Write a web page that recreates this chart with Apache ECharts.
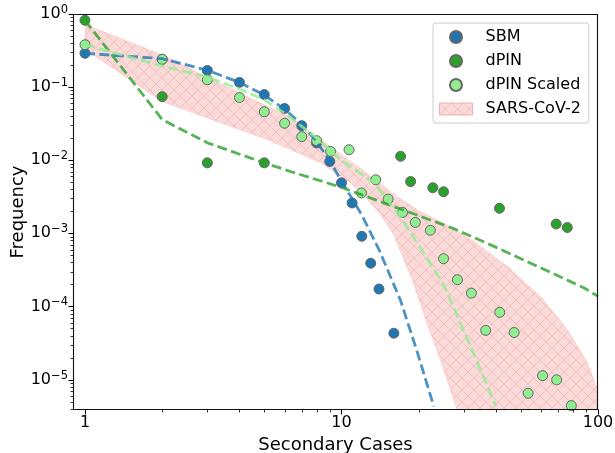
<!DOCTYPE html>
<html>
<head>
<meta charset="utf-8">
<script src="https://cdn.jsdelivr.net/npm/echarts@6/dist/echarts.min.js"></script>
<style>
html,body{margin:0;padding:0;background:#ffffff;}
#chart{width:615px;height:453px;}
</style>
</head>
<body>
<div id="chart"></div>
<script>
// ---------------- data ----------------
const X_MIN = 0.898, X_MAX = 100;
const Y_MIN = 3.83e-6, Y_MAX = 1;

// SBM scatter
const sbmX = [1, 2, 3, 4, 5, 6, 7, 8, 9, 10, 11, 12, 13, 14, 16];
const sbmY = [0.29, 0.24, 0.169, 0.116, 0.079, 0.051, 0.0297, 0.0172, 0.0096, 0.0049, 0.0026, 0.00091, 0.00039, 0.000173, 0.000043];

// dPIN scatter
const dpinX = [1, 2, 3, 5, 17, 18.6, 22.7, 25, 41.3, 68.7, 75.9];
const dpinY = [0.82, 0.074, 0.0092, 0.0092, 0.0113, 0.0051, 0.0042, 0.0037, 0.0022, 0.00134, 0.0012];

// dPIN Scaled scatter
const scaledX = [1, 2, 3, 4, 5, 6, 7, 8, 9.07, 10.7, 11.97, 13.6, 15.2, 17.3, 19.4, 22.2, 25, 28.3, 32.1, 36.5, 41.4, 47.1, 53.4, 60.8, 69, 78.7];
const scaledY = [0.38, 0.24, 0.126, 0.072, 0.046, 0.032, 0.021, 0.0185, 0.0132, 0.0139, 0.00356, 0.0054, 0.00294, 0.00193, 0.00141, 0.0011, 0.00045, 0.000232, 0.000152, 0.000047, 0.000083, 0.000044, 0.0000065, 0.0000113, 0.0000099, 0.0000044];

// fitted (dashed) curves
const sbmFitX = [1, 2, 3, 4, 5, 6, 7, 8, 9, 10, 12, 14, 17, 19.8, 22.9];
const sbmFitY = [0.29, 0.245, 0.17, 0.116, 0.078, 0.05, 0.031, 0.018, 0.0098, 0.0052, 0.00178, 0.0006, 0.00012, 0.000023, 0.0000043];

const dpinFitX = [1, 2, 3, 5, 6.5, 9.9, 17.3, 27.4, 40.6, 88.4, 100];
const dpinFitY = [0.82, 0.036, 0.0173, 0.0092, 0.0068, 0.0043, 0.0021, 0.00116, 0.00063, 0.000179, 0.000137];

const scaledFitX = [1, 2, 3, 4, 5, 6, 7, 8, 9.9, 13.4, 17, 18.6, 25, 31.9, 40];
const scaledFitY = [0.38, 0.195, 0.137, 0.094, 0.067, 0.044, 0.029, 0.020, 0.0102, 0.0049, 0.00166, 0.00102, 0.0002, 0.000028, 0.0000043];

// SARS-CoV-2 band edges
const bandUpX = [1, 2, 3.79, 6.33, 9.07, 13.6, 16.5, 19.8, 24.4, 29.1, 32.9, 44.4, 59.9, 76.1, 91.2, 100];
const bandUpY = [0.725, 0.277, 0.092, 0.039, 0.0154, 0.0054, 0.0032, 0.0021, 0.00144, 0.00102, 0.00078, 0.000352, 0.000137, 0.000048, 0.0000168, 0.0000072];
const bandLoX = [1, 2, 5.13, 8.28, 10.84, 12.2, 14.2, 16, 18.9, 21.6, 24.4, 28.2];
const bandLoY = [0.33, 0.063, 0.019, 0.0092, 0.0049, 0.00337, 0.0018, 0.00093, 0.000225, 0.000056, 0.0000175, 0.00000383];

// ticks
const xMajorTicks = [1, 10, 100];
const xMinorTicks = [2, 3, 4, 5, 6, 7, 8, 9, 20, 30, 40, 50, 60, 70, 80, 90];
const yMajorTicks = [1e-5, 1e-4, 1e-3, 1e-2, 1e-1, 1];
const yMinorTicks = [
  4e-6, 5e-6, 6e-6, 7e-6, 8e-6, 9e-6,
  2e-5, 3e-5, 4e-5, 5e-5, 6e-5, 7e-5, 8e-5, 9e-5,
  2e-4, 3e-4, 4e-4, 5e-4, 6e-4, 7e-4, 8e-4, 9e-4,
  2e-3, 3e-3, 4e-3, 5e-3, 6e-3, 7e-3, 8e-3, 9e-3,
  2e-2, 3e-2, 4e-2, 5e-2, 6e-2, 7e-2, 8e-2, 9e-2,
  0.2, 0.3, 0.4, 0.5, 0.6, 0.7, 0.8, 0.9
];

// ---------------- helpers ----------------
const FONT = 'DejaVu Sans';
function zip(xs, ys) { return xs.map((x, i) => [x, ys[i]]); }

function makeHatch() {
  const s = 12;
  const c = document.createElement('canvas');
  c.width = s; c.height = s;
  const g = c.getContext('2d');
  g.fillStyle = 'rgba(240,128,128,0.30)';
  g.fillRect(0, 0, s, s);
  g.strokeStyle = 'rgba(225,110,110,0.22)';
  g.lineWidth = 1;
  g.beginPath();
  g.moveTo(-1, -1); g.lineTo(s + 1, s + 1);
  g.moveTo(s + 1, -1); g.lineTo(-1, s + 1);
  g.stroke();
  return c;
}
const hatch = { image: makeHatch(), repeat: 'repeat' };

function isPow10(v) {
  const l = Math.log10(v);
  return Math.abs(l - Math.round(l)) < 1e-6;
}

const chart = echarts.init(document.getElementById('chart'), null, { renderer: 'canvas' });

const option = {
  animation: false,
  backgroundColor: '#ffffff',
  grid: { left: 73, top: 14, right: 17, bottom: 43, show: false, outerBoundsMode: 'none' },
  xAxis: {
    type: 'log', logBase: 10, min: X_MIN, max: X_MAX, splitNumber: 2,
    axisLine: { show: false }, axisTick: { show: false }, splitLine: { show: false },
    axisLabel: {
      fontSize: 16, fontFamily: FONT, color: '#000', margin: 5,
      formatter: v => isPow10(v) ? String(Math.round(v)) : ''
    },
    name: 'Secondary Cases', nameLocation: 'middle', nameGap: 21,
    nameTextStyle: { fontSize: 18, fontFamily: FONT, color: '#000' }
  },
  yAxis: {
    type: 'log', logBase: 10, min: Y_MIN, max: Y_MAX,
    axisLine: { show: false }, axisTick: { show: false }, splitLine: { show: false },
    axisLabel: {
      margin: 5,
      formatter: v => {
        if (!isPow10(v)) return '';
        const e = Math.round(Math.log10(v));
        const sup = e < 0 ? '\u2212' + (-e) : String(e);
        return '{b|10}{s|' + sup + '}';
      },
      rich: {
        b: { fontSize: 16, fontFamily: FONT, color: '#000', lineHeight: 20 },
        s: { fontSize: 11.5, fontFamily: FONT, color: '#000', lineHeight: 13, verticalAlign: 'top' }
      }
    },
    name: 'Frequency', nameLocation: 'middle', nameGap: 46, nameMoveOverlap: false,
    nameTextStyle: { fontSize: 18, fontFamily: FONT, color: '#000' }
  },
  legend: {
    orient: 'vertical', left: 433, top: 23,
    itemWidth: 33, itemHeight: 12, itemGap: 6,
    padding: [5, 8, 5, 6],
    backgroundColor: 'rgba(255,255,255,0.8)', borderColor: '#cccccc', borderWidth: 1, borderRadius: 3,
    selectedMode: false,
    textStyle: { fontSize: 16, fontFamily: FONT, color: '#000', lineHeight: 18, padding: [0, 0, 0, 8] },
    data: [
      { name: 'SBM', icon: 'circle' },
      { name: 'dPIN', icon: 'circle' },
      { name: 'dPIN Scaled', icon: 'circle' },
      { name: 'SARS-CoV-2', icon: 'rect',
        itemStyle: { color: hatch, borderColor: 'rgba(240,128,128,0.55)', borderWidth: 1 } }
    ]
  },
  series: [
    {
      name: 'SARS-CoV-2', type: 'custom', coordinateSystem: 'cartesian2d', z: 1, silent: true,
      itemStyle: { color: hatch, borderColor: 'rgba(240,128,128,0.55)', borderWidth: 1 },
      data: [[bandUpX[0], bandUpY[0]]],
      renderItem: function (params, api) {
        const cs = params.coordSys;
        const bottom = cs.y + cs.height;
        const pts = [];
        for (let i = 0; i < bandUpX.length; i++) pts.push(api.coord([bandUpX[i], bandUpY[i]]));
        pts.push([api.coord([bandUpX[bandUpX.length - 1], Y_MAX])[0], bottom]);
        for (let i = bandLoX.length - 1; i >= 0; i--) pts.push(api.coord([bandLoX[i], bandLoY[i]]));
        return {
          type: 'polygon', shape: { points: pts },
          style: { fill: hatch, stroke: 'rgba(240,128,128,0.2)', lineWidth: 0.6 }
        };
      }
    },
    {
      name: 'SBM', type: 'scatter', z: 2, symbolSize: 10,
      itemStyle: { color: '#1f77b4', borderColor: '#666666', borderWidth: 1, opacity: 1 },
      data: zip(sbmX, sbmY)
    },
    {
      name: 'dPIN', type: 'scatter', z: 2, symbolSize: 10,
      itemStyle: { color: '#2ca02c', borderColor: '#666666', borderWidth: 1, opacity: 1 },
      data: zip(dpinX, dpinY)
    },
    {
      name: 'dPIN Scaled', type: 'scatter', z: 2, symbolSize: 10,
      itemStyle: { color: '#90ee90', borderColor: '#666666', borderWidth: 1, opacity: 1 },
      data: zip(scaledX, scaledY)
    },
    {
      name: 'SBM fit', type: 'line', z: 3, silent: true, showSymbol: false, symbol: 'none',
      lineStyle: { color: '#1f77b4', width: 2.8, type: [10, 4.4], opacity: 0.8 },
      data: zip(sbmFitX, sbmFitY)
    },
    {
      name: 'dPIN fit', type: 'line', z: 3, silent: true, showSymbol: false, symbol: 'none',
      lineStyle: { color: '#2ca02c', width: 2.8, type: [10, 4.4], opacity: 0.8 },
      data: zip(dpinFitX, dpinFitY)
    },
    {
      name: 'dPIN Scaled fit', type: 'line', z: 3, silent: true, showSymbol: false, symbol: 'none',
      lineStyle: { color: '#90ee90', width: 2.8, type: [10, 4.4], opacity: 0.8 },
      data: zip(scaledFitX, scaledFitY)
    },
    {
      name: 'frame', type: 'custom', coordinateSystem: 'cartesian2d', z: 10, silent: true, clip: false,
      data: [[1, 1]],
      renderItem: function (params, api) {
        const cs = params.coordSys;
        const L = Math.round(cs.x) + 0.5, T = Math.round(cs.y) + 0.5;
        const R = Math.round(cs.x + cs.width) - 0.5, B = Math.round(cs.y + cs.height) - 0.5;
        const ch = [];
        const st = w => ({ stroke: '#000', lineWidth: w });
        xMajorTicks.forEach(v => {
          const x = Math.round(api.coord([v, Y_MAX])[0]) + 0.5;
          ch.push({ type: 'line', shape: { x1: x, y1: B, x2: x, y2: B + 5 }, style: st(1.1) });
        });
        xMinorTicks.forEach(v => {
          const x = Math.round(api.coord([v, Y_MAX])[0]) + 0.5;
          ch.push({ type: 'line', shape: { x1: x, y1: B, x2: x, y2: B + 3 }, style: st(0.8) });
        });
        yMajorTicks.forEach(v => {
          const y = Math.round(api.coord([X_MAX, v])[1]) + 0.5;
          ch.push({ type: 'line', shape: { x1: L, y1: y, x2: L - 5, y2: y }, style: st(1.1) });
        });
        yMinorTicks.forEach(v => {
          const y = Math.round(api.coord([X_MAX, v])[1]) + 0.5;
          ch.push({ type: 'line', shape: { x1: L, y1: y, x2: L - 3, y2: y }, style: st(0.8) });
        });
        ch.push({ type: 'rect', shape: { x: L, y: T, width: R - L, height: B - T },
                  style: { fill: null, stroke: '#111', lineWidth: 1.1 } });
        return { type: 'group', children: ch };
      }
    }
  ]
};

chart.setOption(option);
</script>
</body>
</html>
